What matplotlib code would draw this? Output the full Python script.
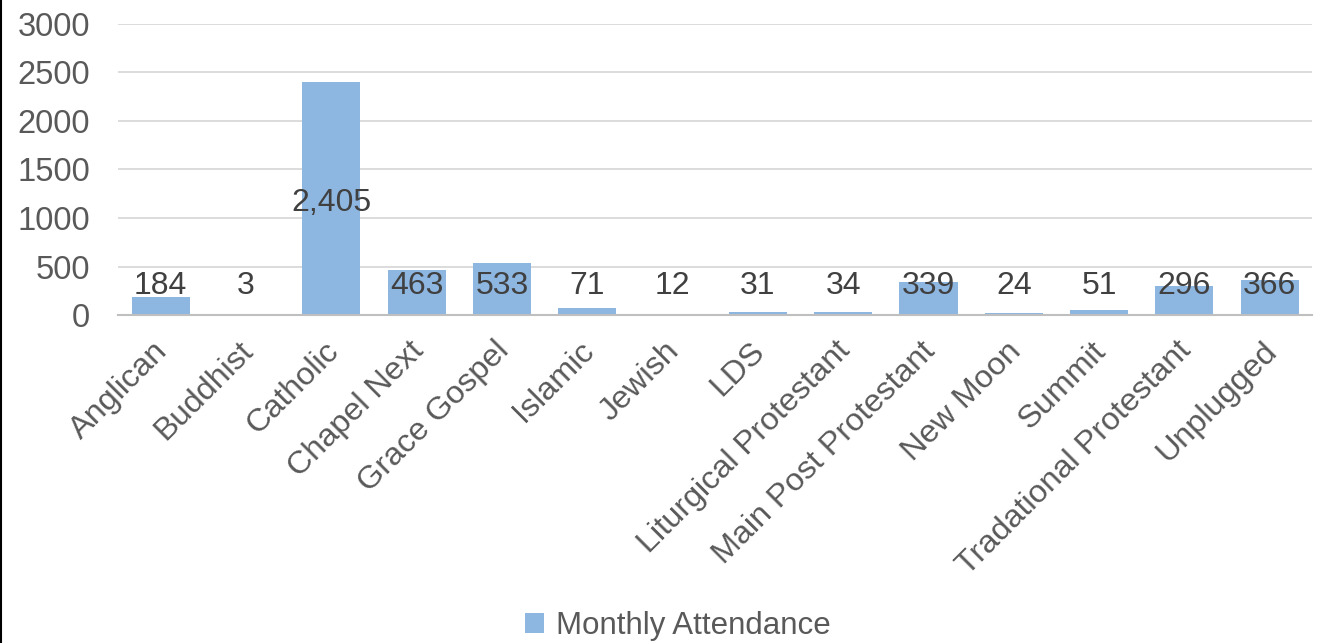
import matplotlib
matplotlib.use("Agg")
import matplotlib.pyplot as plt
from matplotlib.lines import Line2D
from matplotlib.patches import Patch
from matplotlib.transforms import ScaledTranslation

categories = ["Anglican", "Buddhist", "Catholic", "Chapel Next", "Grace Gospel",
              "Islamic", "Jewish", "LDS", "Liturgical Protestant",
              "Main Post Protestant", "New Moon", "Summit",
              "Tradational Protestant", "Unplugged"]
values = [184, 3, 2405, 463, 533, 71, 12, 31, 34, 339, 24, 51, 296, 366]
series_name = "Monthly Attendance"
yticks = [0, 500, 1000, 1500, 2000, 2500, 3000]

plt.rcParams['font.family'] = ['Liberation Sans', 'DejaVu Sans']

fig = plt.figure(figsize=(13.19, 6.43), dpi=100)
ax = fig.add_axes([0.0895, 0.510, 0.9055, 0.453])

bar_color = "#8DB6E1"
x = list(range(len(categories)))
ax.bar(x, values, width=0.68, color=bar_color, zorder=2)

ax.set_xlim(-0.5, len(categories) - 0.5)
ax.set_ylim(0, 3000)
ax.set_yticks(yticks)
ax.set_yticklabels([str(t) for t in yticks], fontsize=23.5, color="#595959")
ax.tick_params(axis='y', length=0, pad=20)
ax.yaxis.grid(True, color="#D9D9D9", linewidth=1.3, zorder=0)
ax.set_axisbelow(True)

ax.set_xticks(x)
ax.set_xticklabels(categories, rotation=45, ha='right', rotation_mode='anchor',
                   fontsize=23.3, color="#595959")
ax.tick_params(axis='x', length=0, pad=15)
shift = ScaledTranslation(-8 / 100, 0, fig.dpi_scale_trans)
for lbl in ax.get_xticklabels():
    lbl.set_transform(lbl.get_transform() + shift)

for s in ['top', 'right', 'left']:
    ax.spines[s].set_visible(False)
ax.spines['bottom'].set_color("#BFBFBF")
ax.spines['bottom'].set_linewidth(1.5)
ax.spines['bottom'].set_zorder(3)

for xi, v in zip(x, values):
    ly = max(v * 0.48, 300)
    ax.text(xi, ly, f"{v:,}", ha='center', va='center', fontsize=23,
            color="#404040", zorder=4)

handle = Patch(facecolor=bar_color, edgecolor='none')
fig.legend([handle], [series_name], loc='center', bbox_to_anchor=(0.514, 0.027),
           frameon=False, fontsize=22.5, labelcolor="#595959",
           handlelength=0.6, handleheight=0.6, handletextpad=0.4)

# outer border at left edge
fig.add_artist(Line2D([0.001, 0.001], [0, 1], transform=fig.transFigure,
                      color="black", linewidth=1.5))

fig.savefig("out.png", dpi=100)
